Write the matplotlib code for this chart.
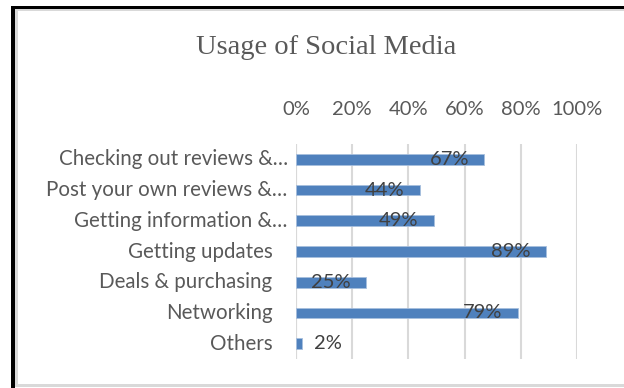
import matplotlib.pyplot as plt
from matplotlib.patches import Rectangle

# Usage of social media - share of respondents per activity
categories = ["Checking out reviews &…", "Post your own reviews &…",
              "Getting information &…", "Getting updates",
              "Deals & purchasing", "Networking", "Others"]
values = [67, 44, 49, 89, 25, 79, 2]
xticks = [0, 20, 40, 60, 80, 100]

W, H = 624, 388
fig = plt.figure(figsize=(W / 100, H / 100), dpi=100)

def px_rect(x0, y0, x1, y1, color):
    # rectangle given in pixels from the top-left corner
    fig.add_artist(Rectangle((x0 / W, 1 - y1 / H), (x1 - x0) / W, (y1 - y0) / H,
                             transform=fig.transFigure, color=color, lw=0))

# frame around the chart
px_rect(11, 6, 15, 388, 'black')
px_rect(11, 6, 624, 9, 'black')
px_rect(15, 9, 18, 385, '#d9d9d9')
px_rect(15, 9, 624, 11, '#d9d9d9')
px_rect(15, 384, 624, 387, '#d9d9d9')

ax = fig.add_axes([296 / W, 1 - 359 / H, (577 - 296) / W, (359 - 144) / H])

y = range(len(categories))
ax.barh(y, values, height=0.35, color='#4f81bd', edgecolor='#a7bfde', linewidth=0.6, zorder=3)
ax.set_ylim(len(categories) - 0.5, -0.5)
ax.set_xlim(0, 100)

ax.set_xticks(xticks)
ax.set_xticklabels([f"{t}%" for t in xticks])
ax.xaxis.tick_top()
ax.tick_params(axis='x', length=0, pad=18.5, labelsize=14.5, labelcolor='#595959')
for lab in ax.get_xticklabels():
    lab.set_family('Lato')
ax.set_yticks([])
ax.grid(axis='x', color='#d9d9d9', lw=1.5, zorder=0)
for s in ax.spines.values():
    s.set_visible(False)
ax.axvline(0, color='#d9d9d9', lw=1.5, zorder=1)

# category labels; truncated ones sit closer to the axis
for i, c in enumerate(categories):
    off = -6 if c.endswith('…') else -17
    ax.annotate(c, xy=(0, i), xycoords=('axes fraction', 'data'), xytext=(off, 0),
                textcoords='offset points', ha='right', va='center',
                fontsize=14.8, color='#595959', family='Lato')

# value labels
for i, v in enumerate(values):
    if v < 10:
        ax.annotate(f"{v}%", xy=(v, i), xytext=(9, 0), textcoords='offset points',
                    ha='left', va='center', fontsize=14.5, color='#404040', family='Lato')
    else:
        ax.annotate(f"{v}%", xy=(v, i), xytext=(-11, 0), textcoords='offset points',
                    ha='right', va='center', fontsize=14.5, color='#404040', family='Lato')

fig.text(326 / W, 1 - 47 / H, "Usage of Social Media", ha='center', va='center',
         fontsize=20.5, color='#595959', family='Liberation Serif')

fig.savefig('out.png', dpi=100)
